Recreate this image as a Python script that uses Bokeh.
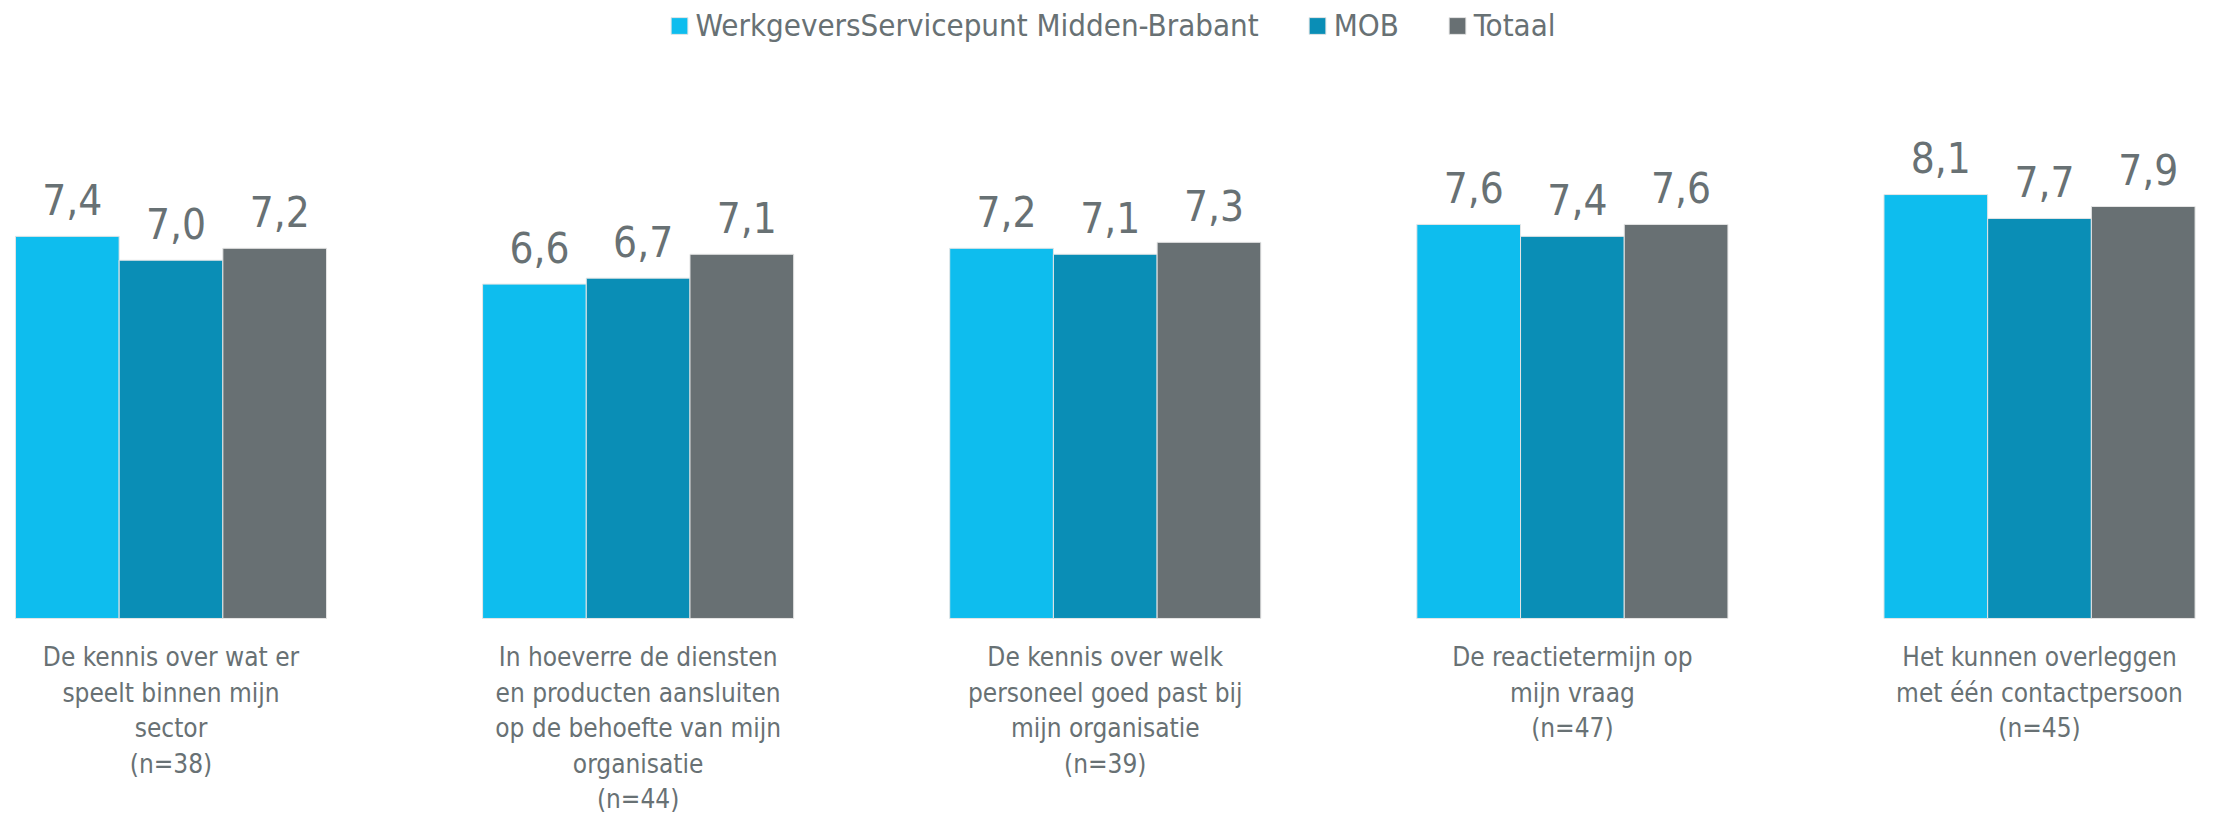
from bokeh.plotting import figure
from bokeh.models import ColumnDataSource, Range1d, Legend, LegendItem
from bokeh.core.properties import value
from bokeh.embed import file_html
from bokeh.resources import INLINE

# ---- data ----
categories = [
    "De kennis over wat er\nspeelt binnen mijn\nsector",
    "In hoeverre de diensten\nen producten aansluiten\nop de behoefte van mijn\norganisatie",
    "De kennis over welk\npersoneel goed past bij\nmijn organisatie",
    "De reactietermijn op\nmijn vraag",
    "Het kunnen overleggen\nmet één contactpersoon",
]
sample_sizes = [38, 44, 39, 47, 45]
series_names = ["WerkgeversServicepunt Midden-Brabant", "MOB", "Totaal"]
wsp = [7.4, 6.6, 7.2, 7.6, 8.1]
mob = [7.0, 6.7, 7.1, 7.4, 7.7]
totaal = [7.2, 7.1, 7.3, 7.6, 7.9]

# ---- style ----
colors = ["#0EBDEE", "#0A8EB6", "#687073"]
text_color = "#687174"
FONT = "DejaVu Sans Condensed"
AXIS_MIN = 1
BAR_W = 0.222

W, H = 2224, 814
p = figure(width=W, height=H, output_backend="svg", toolbar_location=None,
           x_range=Range1d(-0.365, 4.396), y_range=Range1d(-2.283, 11.35),
           x_axis_location=None, y_axis_location=None, min_border=0)
p.grid.visible = False
p.outline_line_color = None
p.background_fill_color = "white"

xs = list(range(len(categories)))
items = []
for j, (name, vals) in enumerate(zip(series_names, [wsp, mob, totaal])):
    off = (j - 1) * BAR_W
    src = ColumnDataSource(dict(
        x=[x + off for x in xs], top=vals,
        lab=[f"{v:.1f}".replace(".", ",") for v in vals]))
    r = p.vbar(x="x", top="top", bottom=AXIS_MIN, width=BAR_W, source=src,
               fill_color=colors[j], line_color="#e6e6e6", line_width=1)
    p.text(x="x", y="top", text="lab", source=src, text_align="center",
           text_baseline="alphabetic", x_offset=5, y_offset=-37,
           text_font=value(FONT), text_font_size="42px", text_color=text_color)
    items.append(LegendItem(label=name, renderers=[r]))

cat_src = ColumnDataSource(dict(
    x=xs, y=[AXIS_MIN] * len(xs),
    t=[f"{c}\n(n={n})" for c, n in zip(categories, sample_sizes)]))
p.text(x="x", y="y", text="t", source=cat_src, text_align="center",
       text_baseline="top", y_offset=24, text_line_height=1.18,
       text_font=value(FONT), text_font_size="26px", text_color=text_color)

legend = Legend(items=items, location="top_center", orientation="horizontal",
                glyph_width=21, glyph_height=21, label_standoff=6, spacing=48,
                label_text_font=FONT, label_text_font_size="31px",
                label_text_color=text_color, border_line_color=None,
                background_fill_alpha=0, margin=7, padding=4)
p.add_layout(legend)

open("out.html", "w").write(file_html(p, INLINE))
